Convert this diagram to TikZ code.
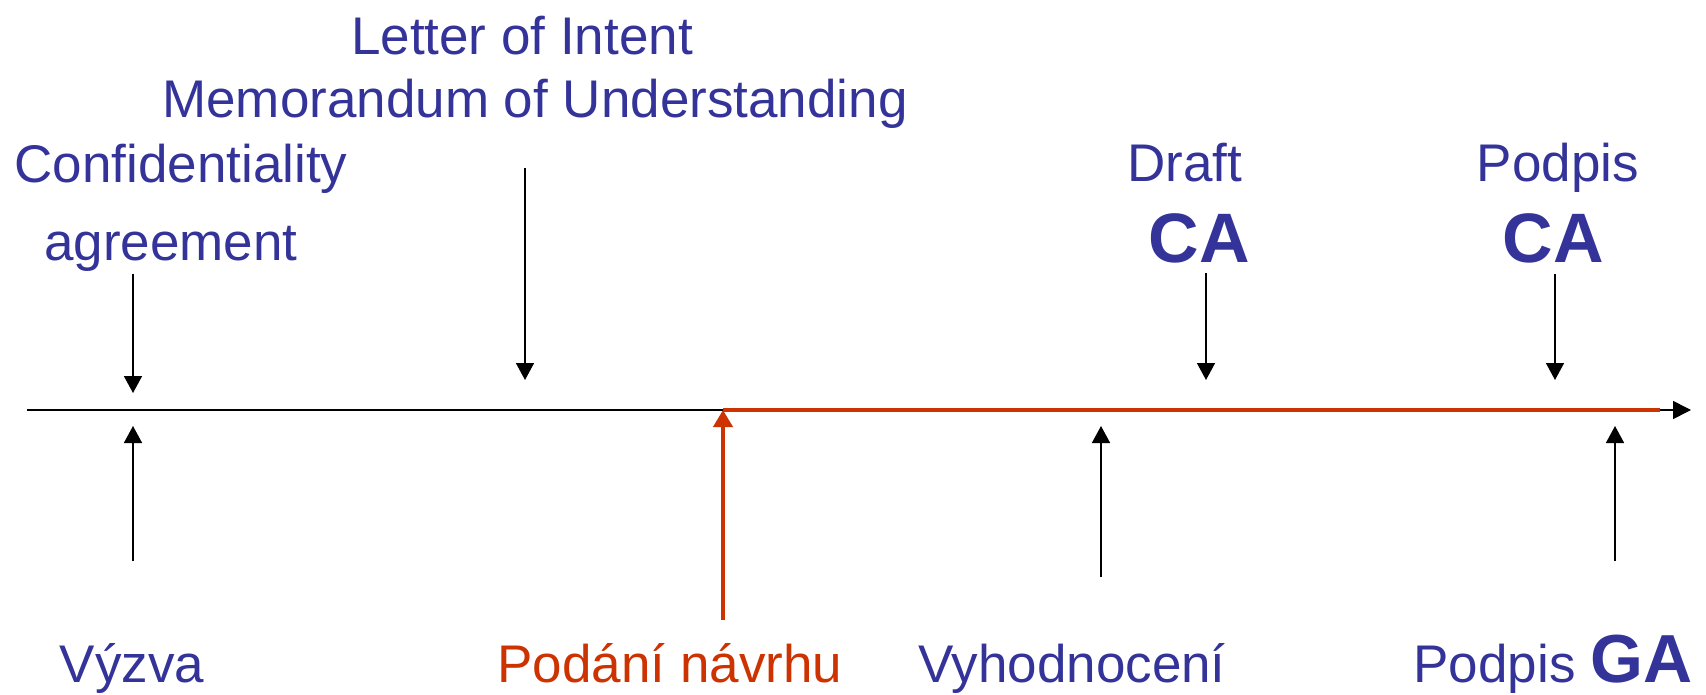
\documentclass[tikz,border=0pt]{standalone}
\usepackage{fontspec}
\setmainfont{Liberation Sans}
\usetikzlibrary{arrows.meta}
\definecolor{tblue}{HTML}{333399}
\definecolor{tred}{HTML}{CC3300}
\begin{document}
\begin{tikzpicture}[x=1pt,y=-1pt,
  lbl/.style={anchor=base,inner sep=0pt,text=tblue,font=\fontsize{53}{60}\selectfont},
  big/.style={anchor=base,inner sep=0pt,text=tblue,font=\fontsize{70}{80}\selectfont\bfseries},
  arr/.style={draw=black,line width=1.6pt,-{Triangle[width=18pt,length=17pt]}},
  redarr/.style={draw=tred,line width=4pt,-{Triangle[width=19pt,length=17pt]}}]
\useasboundingbox (0,0) rectangle (1706,695);
% labels
\node[lbl] (loi) at (522,55) {Letter of Intent};
\node[lbl] (mou) at (535,118) {Memorandum of Understanding};
\node[lbl] (conf) at (181,183) {Confidentiality};
\node[lbl] (agr) at (171,261) {agreement};
\node[lbl] (draft) at (1185,182) {Draft};
\node[big] (ca1) at (1199,262) {CA};
\node[lbl] (podp) at (1558,182) {Podpis};
\node[big] (ca2) at (1553,262) {CA};
\node[lbl] (vyzva) at (132,682) {Výzva};
\node[lbl,text=tred] (podani) at (670,682) {Podání návrhu};
\node[lbl] (vyhod) at (1072,682) {Vyhodnocení};
\node[anchor=base,inner sep=0pt] (pga) at (1553,682) {\color{tblue}\fontsize{53}{60}\selectfont Podpis \fontsize{68}{80}\selectfont\bfseries GA};
% axis
\coordinate (a0) at (27,410);
\coordinate (a1) at (723,410);
\coordinate (a2) at (1660,410);
\coordinate (aend) at (1691,410);
\draw[line width=1.6pt,-{Triangle[width=18pt,length=18pt]}] (a0) -- (aend);
\draw[tred,line width=4pt] (a1) -- (a2);
% arrows above
\coordinate (s1) at (133,274); \coordinate (t1) at (133,393);
\coordinate (s2) at (525,168); \coordinate (t2) at (525,380);
\coordinate (s3) at (1206,273); \coordinate (t3) at (1206,380);
\coordinate (s4) at (1555,274); \coordinate (t4) at (1555,380);
\draw[arr] (s1) -- (t1);
\draw[arr] (s2) -- (t2);
\draw[arr] (s3) -- (t3);
\draw[arr] (s4) -- (t4);
% arrows below
\coordinate (u1) at (133,561); \coordinate (v1) at (133,426);
\coordinate (u2) at (723,620); \coordinate (v2) at (723,410);
\coordinate (u3) at (1101,577); \coordinate (v3) at (1101,426);
\coordinate (u4) at (1615,561); \coordinate (v4) at (1615,426);
\draw[arr] (u1) -- (v1);
\draw[redarr] (u2) -- (v2);
\draw[arr] (u3) -- (v3);
\draw[arr] (u4) -- (v4);
\end{tikzpicture}
\end{document}
